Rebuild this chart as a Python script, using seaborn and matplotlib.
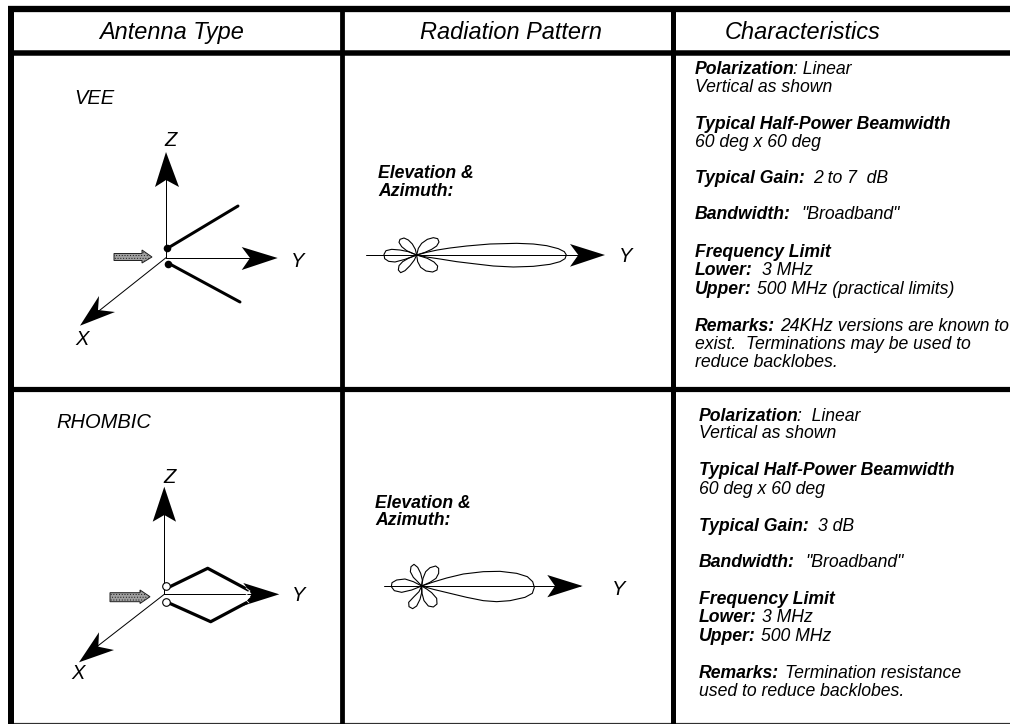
import matplotlib
matplotlib.use('Agg')
import matplotlib.pyplot as plt
import numpy as np
import seaborn as sns

headers = ['Antenna Type', 'Radiation Pattern', 'Characteristics']
header_x = [99, 420, 725]

# lobes, in 3x crop pixels
vee_origin = (350, 200)
vee_main = [(200,165),(230,157),(262,150),(300,144),(350,138),(420,132),(500,130),(550,132),(590,137),(625,146),(643,155),(649,165),(645,176),(630,185),(600,193),(550,199),(490,201),(430,198),(370,191),(320,185),(270,177),(230,171),(200,165)]
vee_up_left = [(200,165),(188,160),(170,152),(155,140),(147,127),(150,118),(162,114),(175,120),(187,132),(196,148),(200,165)]
vee_up_right = [(200,165),(205,145),(215,130),(232,118),(250,113),(263,116),(267,126),(260,138),(245,148),(225,157),(200,165)]
vee_low_left = [(200,165),(193,180),(180,197),(165,212),(152,218),(145,210),(147,197),(158,185),(175,175),(200,165)]
vee_low_right = [(200,165),(203,185),(212,202),(228,213),(248,216),(261,210),(263,198),(252,186),(232,175),(200,165)]
vee_back = [(200,165),(175,155),(150,150),(125,148),(108,152),(102,163),(104,176),(116,184),(135,186),(165,178),(200,165)]

rho_origin = (350, 540)
rho_main = [(215,138),(250,126),(290,114),(340,102),(400,95),(450,94),(500,100),(532,110),(548,125),(553,142),(547,160),(525,172),(480,182),(440,185),(400,182),(350,172),(300,160),(250,148),(215,138)]
rho_up_left = [(215,138),(203,125),(190,112),(181,95),(183,80),(192,73),(203,82),(212,100),(217,120),(215,138)]
rho_up_right = [(215,138),(219,115),(227,95),(240,83),(257,78),(266,85),(266,100),(258,115),(240,127),(215,138)]
rho_low_left = [(215,138),(207,155),(192,170),(176,187),(177,200),(188,206),(200,198),(210,178),(215,158),(215,138)]
rho_low_right = [(215,138),(216,160),(222,182),(235,198),(250,201),(261,192),(260,175),(245,158),(230,147),(215,138)]
rho_back = [(215,138),(190,125),(165,117),(140,120),(126,128),(124,140),(133,152),(155,157),(185,150),(215,138)]

# wires
vee_wire_top = ([168, 238], [248, 206])
vee_wire_low = ([168, 240], [263, 302])
rho_wire_top = ([166.7, 207.7, 248.3], [588.3, 568.3, 590])
rho_wire_low = ([168.3, 210.7, 248.3], [602.7, 621.7, 601.7])
rho_squiggle = ([246, 250, 246, 250, 246, 249], [588, 591, 594, 597, 600, 603])

# characteristics text: (bold part, x of plain part, plain part, baseline)
vee_text = [
    ('Polarization', 793, ': Linear', 74),
    ('', 0, 'Vertical as shown', 92),
    ('Typical Half-Power Beamwidth', 0, '', 128.7),
    ('', 0, '60 deg x 60 deg', 146.7),
    ('Typical Gain:', 813, '2 to 7  dB', 183.3),
    ('Bandwidth:', 801.7, '"Broadband"', 219),
    ('Frequency Limit', 0, '', 257),
    ('Lower:', 762, '3 MHz', 275),
    ('Upper:', 757, '500 MHz (practical limits)', 294),
    ('Remarks:', 780, '24KHz versions are known to', 331),
    ('', 0, 'exist.  Terminations may be used to', 349),
    ('', 0, 'reduce backlobes.', 367),
]
rho_text = [
    ('Polarization', 797, ':  Linear', 421),
    ('', 0, 'Vertical as shown', 438),
    ('Typical Half-Power Beamwidth', 0, '', 475),
    ('', 0, '60 deg x 60 deg', 494),
    ('Typical Gain:', 817.7, '3 dB', 530.7),
    ('Bandwidth:', 805.7, '"Broadband"', 566.7),
    ('Frequency Limit', 0, '', 604),
    ('Lower:', 761.7, '3 MHz', 621.7),
    ('Upper:', 760.7, '500 MHz', 640.7),
    ('Remarks:', 785, 'Termination resistance', 678),
    ('', 0, 'used to reduce backlobes.', 695.7),
]

sns.set_theme(style='white')
plt.rcParams['font.family'] = ['Liberation Sans', 'DejaVu Sans']
plt.rcParams['hatch.linewidth'] = 0.4

fig = plt.figure(figsize=(10.1, 7.24), dpi=100)
ax = fig.add_axes([0, 0, 1, 1])

PX = 0.72  # points per pixel


def line(xs, ys, width=1.0, color='black', zorder=2):
    sns.lineplot(x=xs, y=ys, sort=False, estimator=None, color=color,
                 linewidth=width * PX, ax=ax, legend=False, zorder=zorder)


def lobe(points, origin):
    pts = np.array(points) / 3 + origin
    line(pts[:, 0], pts[:, 1], 1.1)


def arrow_head(tip, back1, notch, back2):
    xs, ys = zip(tip, back1, notch, back2)
    ax.fill(xs, ys, color='black', lw=0, zorder=5)


def label(x, y, s, size=14.5, **kw):
    ax.text(x, y, s, fontsize=size, style='italic', va='baseline', ha='left',
            color='black', clip_on=True, **kw)


def char_block(rows, x0):
    for bold, x_plain, plain, y in rows:
        if bold:
            label(x0, y, bold, 12.7, weight='bold')
        if plain:
            label(x_plain if x_plain else x0, y, plain, 12.7)


# table frame
ax.hlines(9.2, 8, 1010, color='black', lw=6.3 * PX)
ax.hlines(52.8, 8, 1010, color='black', lw=5.5 * PX)
ax.hlines(388.5, 8, 1010, color='black', lw=5.2 * PX)
ax.hlines(723.2, 8, 1010, color='#303030', lw=1.2 * PX)
ax.vlines(11, 6, 724, color='black', lw=6 * PX)
ax.vlines(341.7, 6, 724, color='black', lw=4.8 * PX)
ax.vlines(672.5, 6, 724, color='black', lw=5 * PX)

for x, h in zip(header_x, headers):
    label(x, 38.7, h, 16.9)

label(74, 104, 'VEE')
label(56, 428, 'RHOMBIC')

# VEE axes
line([166, 166], [257.7, 170], 1)
line([166, 262], [257.7, 257.7], 1)
line([166, 90], [257.7, 318], 1)
arrow_head((166, 152), (155, 187), (166, 180), (179, 187))
arrow_head((277.7, 258), (241.7, 247), (250, 258), (241.7, 270))
arrow_head((80, 325.7), (99, 296), (98, 310), (115, 312))
line(*vee_wire_top, 3)
line(*vee_wire_low, 3)
sns.scatterplot(x=[167, 168], y=[248, 264], s=30, color='black', linewidth=0, ax=ax, zorder=6, legend=False)
ax.fill([114, 142, 142, 152, 142, 142, 114], [253.5, 253.5, 250, 257, 263, 260.5, 260.5],
        facecolor='#a0a0a0', edgecolor='#202020', lw=0.7, hatch='......')
label(164, 146, 'Z')
label(290.7, 266.7, 'Y')
label(75, 345, 'X')

# RHOMBIC axes
line([164.3, 164.3], [594.3, 505], 1)
line([164.3, 262], [594.3, 594.3], 1)
line([164.3, 90], [594.3, 652], 1)
arrow_head((164.3, 486.7), (152.7, 521.7), (164.3, 515), (176, 521.7))
arrow_head((279.3, 594.3), (243.3, 583), (251.7, 594.3), (243.3, 605.7))
arrow_head((79, 662.3), (99, 632.3), (98.3, 646.7), (114, 650))
line(*rho_wire_top, 3.2)
line(*rho_wire_low, 3.2)
line(*rho_squiggle, 0.8, color='white', zorder=7)
sns.scatterplot(x=[166.3, 166.3], y=[586, 602.3], s=30, color='white', edgecolor='black', linewidth=0.8, ax=ax, zorder=6, legend=False)
ax.fill([110, 140, 140, 150, 140, 140, 110], [592.7, 592.7, 590, 596.7, 603.5, 601.7, 601.7],
        facecolor='#a0a0a0', edgecolor='#202020', lw=0.7, hatch='......')
label(163.3, 482.7, 'Z')
label(292.3, 600.7, 'Y')
label(71.7, 679.3, 'X')

# radiation patterns
label(378, 178.3, 'Elevation &', 12.7, weight='bold')
label(378, 195.7, 'Azimuth:', 12.7, weight='bold')
label(375, 507.7, 'Elevation &', 12.7, weight='bold')
label(375, 525, 'Azimuth:', 12.7, weight='bold')

line([366, 585], [255, 255], 1)
arrow_head((605, 255), (570, 244), (578.3, 255), (570, 266.7))
for p in [vee_main, vee_up_left, vee_up_right, vee_low_left, vee_low_right, vee_back]:
    lobe(p, vee_origin)
label(619, 261.7, 'Y')

line([384, 580], [586, 586], 1)
arrow_head((582.7, 586), (547.3, 575), (555, 586), (547.3, 597.3))
for p in [rho_main, rho_up_left, rho_up_right, rho_low_left, rho_low_right, rho_back]:
    lobe(p, rho_origin)
label(611.7, 595, 'Y')

char_block(vee_text, 694.7)
char_block(rho_text, 698.7)

ax.set_xlim(0, 1010)
ax.set_ylim(724, 0)
ax.axis('off')
fig.savefig('out.png', dpi=100)
